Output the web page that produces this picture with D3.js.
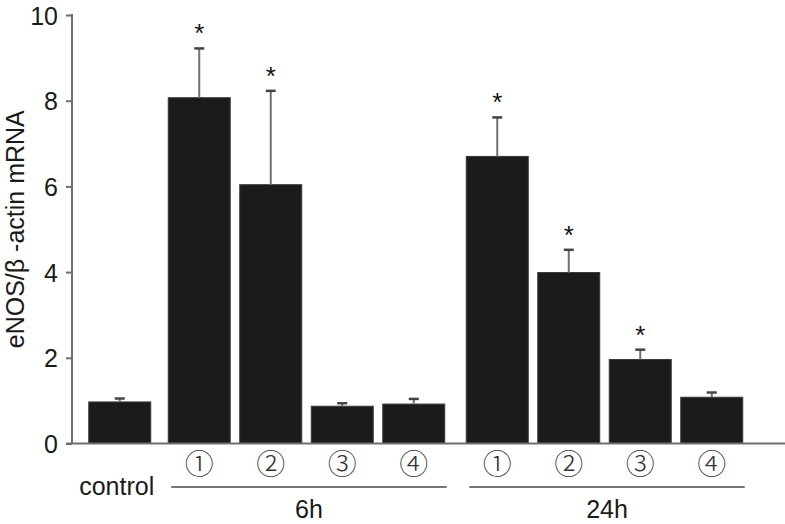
<!DOCTYPE html>
<html>
<head>
<meta charset="utf-8">
<script src="https://cdn.jsdelivr.net/npm/d3@7"></script>
<style>
  body { margin: 0; background: #ffffff; }
  svg { display: block; }
</style>
</head>
<body>
<svg id="Chart"></svg>
<script>
// data
let keys = ["control", "6h-1", "6h-2", "6h-3", "6h-4", "24h-1", "24h-2", "24h-3", "24h-4"]
let groups = ["control", "6h", "6h", "6h", "6h", "24h", "24h", "24h", "24h"]
let subLabels = ["", "①", "②", "③", "④", "①", "②", "③", "④"]
let means = [0.97, 8.07, 6.04, 0.87, 0.92, 6.70, 3.99, 1.96, 1.08]
let errors = [0.08, 1.15, 2.19, 0.07, 0.12, 0.91, 0.53, 0.23, 0.11]
let significant = [false, true, true, false, false, true, true, true, false]
let yTicks = [0, 2, 4, 6, 8, 10]
let groupNames = ["6h", "24h"]

let config = {}

function initConfig() {
    let width = 785
    let height = 524
    let container = d3.select("#Chart")
        .attr("width", width)
        .attr("height", height)
    let axisColor = "#6e6e6e"
    let barColor = "#1b1b1b"
    let textColor = "#1a1a1a"
    let fontFamily = "'Liberation Sans', Arial, sans-serif"
    let fontSize = "25px"
    // extra space added before each group
    let groupOffset = {"control": 0, "6h": 8, "24h": 20}
    config = {width, height, container, axisColor, barColor, textColor, fontFamily, fontSize, groupOffset}
}

function drawChart() {
    let {container, width, axisColor, barColor, textColor, fontFamily, fontSize, groupOffset} = config

    let y = d3.scaleLinear().domain([0, 10]).range([443.5, 15])
    let x = d3.scaleBand().domain(keys)
        .range([84, 84 + 9 * 71.5])
        .paddingInner(0.133)
        .paddingOuter(0.0665)
    let xPos = (k, i) => x(k) + groupOffset[groups[i]]
    let bw = x.bandwidth()

    // bars
    container.selectAll("rect.bar").data(keys)
        .enter().append("rect")
        .attr("class", "bar")
        .attr("x", (d, i) => xPos(d, i))
        .attr("width", bw)
        .attr("y", (d, i) => y(means[i]))
        .attr("height", (d, i) => y(0) - y(means[i]))
        .attr("fill", barColor)
        .attr("stroke", "#3a3a3a")
        .attr("stroke-width", 1)

    // error bars
    let eb = container.selectAll("g.err").data(keys)
        .enter().append("g").attr("class", "err")
    eb.append("line")
        .attr("x1", (d, i) => xPos(d, i) + bw / 2)
        .attr("x2", (d, i) => xPos(d, i) + bw / 2)
        .attr("y1", (d, i) => y(means[i]))
        .attr("y2", (d, i) => y(means[i] + errors[i]))
        .attr("stroke", "#707070")
        .attr("stroke-width", 2)
    eb.append("line")
        .attr("x1", (d, i) => xPos(d, i) + bw / 2 - 5)
        .attr("x2", (d, i) => xPos(d, i) + bw / 2 + 5)
        .attr("y1", (d, i) => y(means[i] + errors[i]))
        .attr("y2", (d, i) => y(means[i] + errors[i]))
        .attr("stroke", "#444")
        .attr("stroke-width", 2.5)

    // significance stars
    container.selectAll("text.star").data(keys.filter((d, i) => significant[i]))
        .enter().append("text")
        .attr("class", "star")
        .attr("x", d => { let i = keys.indexOf(d); return xPos(d, i) + bw / 2 })
        .attr("y", d => { let i = keys.indexOf(d); return y(means[i] + errors[i]) - 6 })
        .attr("text-anchor", "middle")
        .attr("font-family", fontFamily)
        .attr("font-size", "26px")
        .attr("fill", "#111")
        .text("*")

    // y axis
    let yAxis = d3.axisLeft(y).tickValues(yTicks).tickSize(6).tickPadding(8)
    let gy = container.append("g")
        .attr("transform", "translate(72,0)")
        .call(yAxis)
    gy.select(".domain").attr("stroke", axisColor).attr("stroke-width", 2)
        .attr("d", `M0,${y(0)}V${y(10) - 1}`)
    gy.selectAll(".tick line").attr("stroke", axisColor).attr("stroke-width", 2)
    gy.selectAll(".tick text")
        .attr("font-family", fontFamily)
        .attr("font-size", fontSize)
        .attr("fill", textColor)
        .attr("dy", "0.36em")

    // baseline
    container.append("line")
        .attr("x1", 66).attr("x2", width)
        .attr("y1", y(0)).attr("y2", y(0))
        .attr("stroke", axisColor)
        .attr("stroke-width", 2)

    // y title
    container.append("text")
        .attr("transform", `translate(24,${(y(0) + y(10)) / 2}) rotate(-90)`)
        .attr("text-anchor", "middle")
        .attr("font-family", fontFamily)
        .attr("font-size", fontSize)
        .attr("fill", textColor)
        .text("eNOS/β -actin mRNA")

    // circled sub labels
    container.selectAll("text.sub").data(keys.filter((d, i) => subLabels[i] !== ""))
        .enter().append("text")
        .attr("class", "sub")
        .attr("x", d => { let i = keys.indexOf(d); return xPos(d, i) + bw / 2 })
        .attr("y", 475)
        .attr("text-anchor", "middle")
        .attr("font-family", "'Noto Sans CJK JP', 'DejaVu Serif', serif")
        .attr("font-size", "29px")
        .attr("font-weight", "300")
        .attr("fill", "#333")
        .text(d => subLabels[keys.indexOf(d)])

    // control label
    container.append("text")
        .attr("x", xPos("control", 0) + bw / 2 - 3)
        .attr("y", 495)
        .attr("text-anchor", "middle")
        .attr("font-family", fontFamily)
        .attr("font-size", fontSize)
        .attr("fill", textColor)
        .text("control")

    // group lines and labels
    groupNames.forEach(g => {
        let idx = keys.map((k, i) => i).filter(i => groups[i] === g)
        let first = idx[0], last = idx[idx.length - 1]
        let x0 = xPos(keys[first], first) + bw / 2 - 28
        let x1 = xPos(keys[last], last) + bw / 2 + 33
        container.append("line")
            .attr("x1", x0).attr("x2", x1)
            .attr("y1", 487).attr("y2", 487)
            .attr("stroke", "#777")
            .attr("stroke-width", 2)
        container.append("text")
            .attr("x", (x0 + x1) / 2)
            .attr("y", 518)
            .attr("text-anchor", "middle")
            .attr("font-family", fontFamily)
            .attr("font-size", fontSize)
            .attr("fill", textColor)
            .text(g)
    })
}

initConfig()
drawChart()
</script>
</body>
</html>
